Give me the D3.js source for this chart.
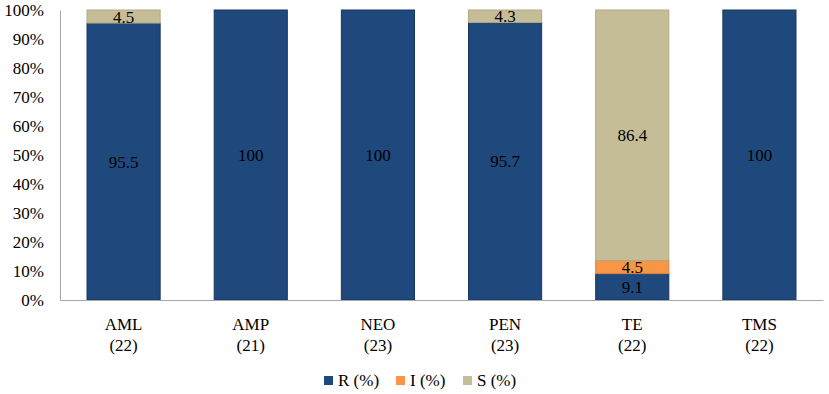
<!DOCTYPE html>
<html>
<head>
<meta charset="utf-8">
<script src="https://cdn.jsdelivr.net/npm/d3@7"></script>
<style>
  body { margin: 0; background: #fff; }
  svg text { font-family: "Liberation Serif", "Times New Roman", serif; }
</style>
</head>
<body>
<svg id="chart" width="829" height="394"></svg>
<script>
// drug names and sample counts
const categories = ['AML', 'AMP', 'NEO', 'PEN', 'TE', 'TMS'];
const counts = ['(22)', '(21)', '(23)', '(23)', '(22)', '(22)'];
const seriesNames = ['R (%)', 'I (%)', 'S (%)'];
const rValues = [95.5, 100, 100, 95.7, 9.1, 100];
const iValues = [0, 0, 0, 0, 4.5, 0];
const sValues = [4.5, 0, 0, 4.3, 86.4, 0];
const yTicks = [0, 10, 20, 30, 40, 50, 60, 70, 80, 90, 100];

const colors = ['#1f497d', '#f79646', '#c4bd97'];
const strokes = ['#17375e', '#e0813a', '#b0a980'];
const fontSize = 17;

const svg = d3.select('#chart');
const margin = { top: 10, right: 6, bottom: 94, left: 60 };
const width = 829, height = 394;

const x = d3.scaleBand()
  .domain(categories)
  .range([margin.left, width - margin.right])
  .paddingInner(0.425)
  .paddingOuter(0.2125);

const y = d3.scaleLinear()
  .domain([0, 100])
  .range([height - margin.bottom, margin.top]);

// stack the three series
const rows = categories.map((c, i) => ({
  cat: c, 'R (%)': rValues[i], 'I (%)': iValues[i], 'S (%)': sValues[i]
}));
const stacked = d3.stack().keys(seriesNames)(rows);

// y axis
const yAxis = svg.append('g')
  .attr('transform', `translate(${margin.left},0)`)
  .call(d3.axisLeft(y).tickValues(yTicks).tickSize(0).tickPadding(16).tickFormat(d => d + '%'));
yAxis.attr('font-family', null).attr('font-size', null);
yAxis.select('.domain').attr('stroke', '#a6a6a6');
yAxis.selectAll('text').attr('font-size', fontSize).attr('fill', '#000').attr('dy', '0.35em');

// bars
const groups = svg.selectAll('.series')
  .data(stacked)
  .enter()
  .append('g')
  .attr('fill', (d, i) => colors[i])
  .attr('stroke', (d, i) => strokes[i]);

groups.selectAll('rect')
  .data(d => d.filter(p => p[1] - p[0] > 0))
  .enter()
  .append('rect')
  .attr('x', d => x(d.data.cat))
  .attr('y', d => y(d[1]))
  .attr('width', x.bandwidth())
  .attr('height', d => y(d[0]) - y(d[1]))
  .attr('stroke-width', 1);

// x axis
const xAxis = svg.append('g')
  .attr('transform', `translate(0,${y(0)})`)
  .call(d3.axisBottom(x).tickSize(0).tickFormat(''));
xAxis.select('.domain').attr('stroke', '#a6a6a6');

// category labels, two lines
const catLabels = svg.append('g').selectAll('text')
  .data(categories)
  .enter()
  .append('text')
  .attr('text-anchor', 'middle')
  .attr('font-size', fontSize)
  .attr('x', d => x(d) + x.bandwidth() / 2)
  .attr('y', y(0) + 30);
catLabels.append('tspan').attr('x', d => x(d) + x.bandwidth() / 2).text(d => d);
catLabels.append('tspan').attr('x', d => x(d) + x.bandwidth() / 2).attr('dy', 21)
  .text((d, i) => counts[i]);

// value labels
stacked.forEach(layer => {
  svg.append('g').selectAll('text')
    .data(layer.filter(p => p[1] - p[0] > 0))
    .enter()
    .append('text')
    .attr('text-anchor', 'middle')
    .attr('font-size', fontSize)
    .attr('x', d => x(d.data.cat) + x.bandwidth() / 2)
    .attr('y', d => (y(d[0]) + y(d[1])) / 2 + 6)
    .text(d => d[1] - d[0] === 100 ? '100' : d3.format('.1f')(d[1] - d[0]));
});

// legend
const legendX = [324, 396, 463];
const legend = svg.append('g').selectAll('g')
  .data(seriesNames)
  .enter()
  .append('g')
  .attr('transform', (d, i) => `translate(${legendX[i]},376)`);
legend.append('rect')
  .attr('width', 9).attr('height', 9)
  .attr('fill', (d, i) => colors[i]);
legend.append('text')
  .attr('x', 14).attr('y', 10)
  .attr('font-size', fontSize)
  .text(d => d);
</script>
</body>
</html>
